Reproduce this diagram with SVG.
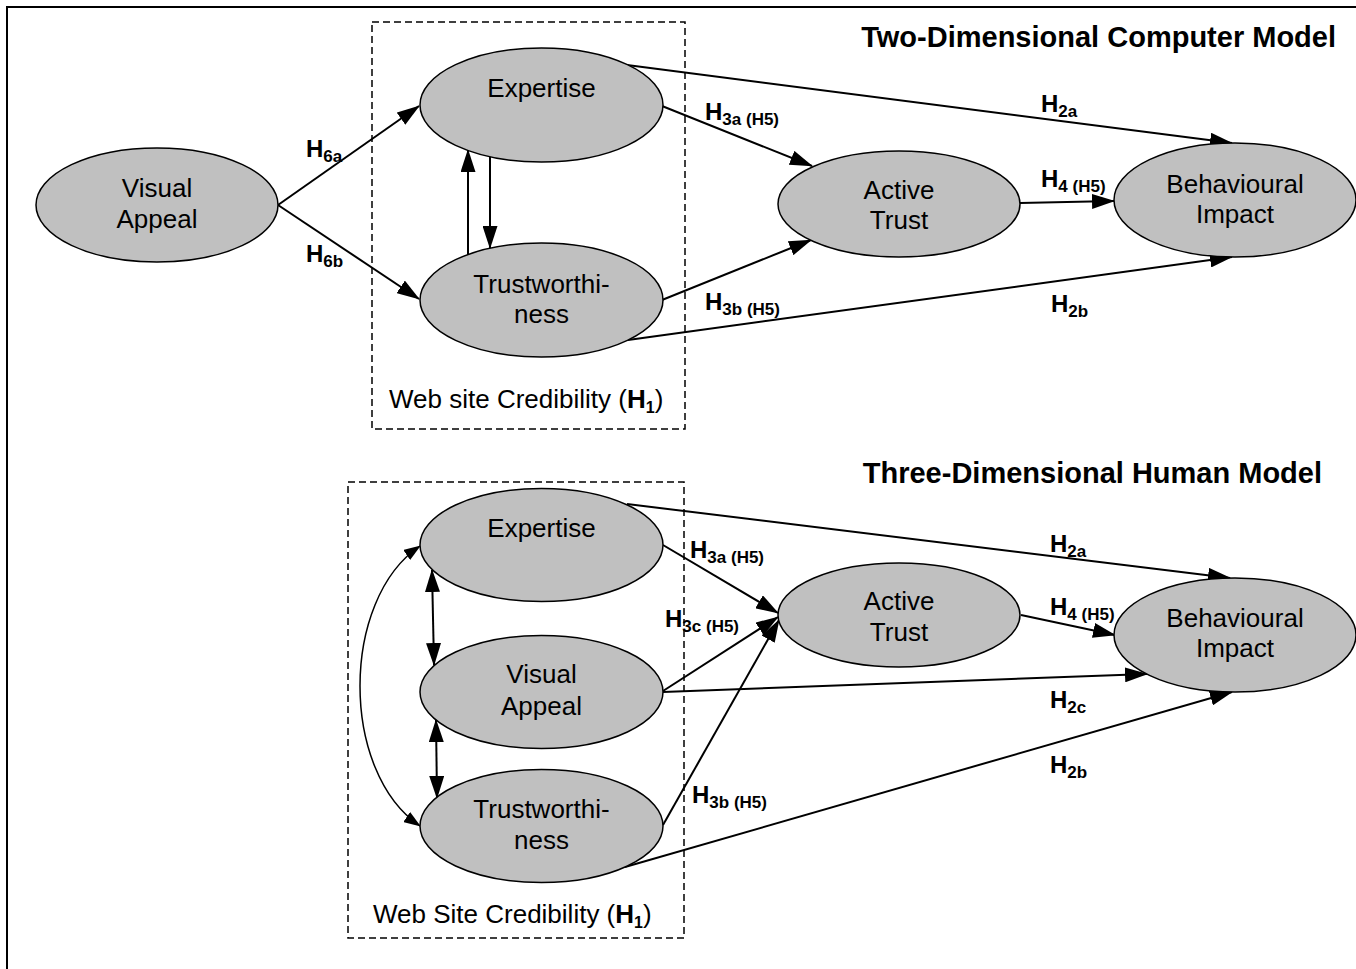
<svg xmlns="http://www.w3.org/2000/svg" width="1356" height="969" viewBox="0 0 1356 969">
<style>
.node ellipse{fill:#c0c0c0;stroke:#000;stroke-width:1.5}
.nt{font-family:"Liberation Sans",Arial,sans-serif;font-size:26px;fill:#000;text-anchor:middle}
.lab{font-family:"Liberation Sans",Arial,sans-serif;font-size:24px;font-weight:bold;fill:#000}
.sub{font-size:17px}
.title{font-family:"Liberation Sans",Arial,sans-serif;font-size:29px;font-weight:bold;fill:#000;text-anchor:end}
.cred{font-family:"Liberation Sans",Arial,sans-serif;font-size:26px;fill:#000}
.box{fill:none;stroke:#000;stroke-width:1.5;stroke-dasharray:7 4}
.conn line,.conn path{stroke:#000;stroke-width:2;fill:none;marker-end:url(#ah)}
.conn .dbl{marker-start:url(#ah)}
.conn .curve{stroke-width:1.5;marker-start:url(#ahs);marker-end:url(#ahs)}
</style>
<defs>
<marker id="ah" markerUnits="userSpaceOnUse" markerWidth="23" markerHeight="15" refX="22" refY="7.5" orient="auto-start-reverse"><path d="M0,0 L23,7.5 L0,15 z" fill="#000"/></marker>
<marker id="ahs" markerUnits="userSpaceOnUse" markerWidth="17" markerHeight="12" refX="16" refY="6" orient="auto-start-reverse"><path d="M0,0 L17,6 L0,12 z" fill="#000"/></marker>
</defs>
<rect width="1356" height="969" fill="#fff"/>
<path d="M7,969 V7 H1356" fill="none" stroke="#000" stroke-width="2"/>

<text class="title" x="1336" y="47">Two-Dimensional Computer Model</text>
<text class="title" x="1322" y="483">Three-Dimensional Human Model</text>

<g id="credibility-top">
<rect class="box" x="372" y="22" width="313" height="407"/>
<text class="cred" x="389" y="408">Web site Credibility (<tspan font-weight="bold">H</tspan><tspan font-weight="bold" font-size="16" dy="5">1</tspan><tspan dy="-5">)</tspan></text>
</g>
<g id="credibility-bottom">
<rect class="box" x="348" y="482" width="336" height="456"/>
<text class="cred" x="373" y="923">Web Site Credibility (<tspan font-weight="bold">H</tspan><tspan font-weight="bold" font-size="16" dy="5">1</tspan><tspan dy="-5">)</tspan></text>
</g>

<g id="connectors" class="conn">
<line x1="278" y1="205" x2="419" y2="106"/>
<line x1="278" y1="205" x2="419" y2="299"/>
<line x1="468" y1="255" x2="468" y2="150"/>
<line x1="490" y1="157" x2="490" y2="248"/>
<line x1="662" y1="106" x2="812" y2="166"/>
<line x1="662" y1="300" x2="811" y2="240"/>
<line x1="1020" y1="203" x2="1114" y2="201"/>
<line x1="627" y1="65" x2="1232" y2="143"/>
<line x1="628" y1="340" x2="1232" y2="257"/>

<path class="curve" d="M420,546 C340,600 340,772 420,826"/>
<line class="dbl" x1="432" y1="570" x2="434" y2="665"/>
<line class="dbl" x1="436" y1="720" x2="437" y2="798"/>
<line x1="663" y1="545" x2="778" y2="613"/>
<line x1="663" y1="691" x2="778" y2="617"/>
<line x1="663" y1="825" x2="779" y2="620"/>
<line x1="1021" y1="615" x2="1115" y2="635"/>
<line x1="627" y1="504" x2="1230" y2="578"/>
<line x1="663" y1="692" x2="1147" y2="674"/>
<line x1="625" y1="867" x2="1232" y2="692"/>
</g>

<g id="labels">
<text class="lab" x="306" y="157">H<tspan class="sub" dy="5">6a</tspan></text>
<text class="lab" x="306" y="262">H<tspan class="sub" dy="5">6b</tspan></text>
<text class="lab" x="705" y="120">H<tspan class="sub" dy="5">3a (H5)</tspan></text>
<text class="lab" x="705" y="310">H<tspan class="sub" dy="5">3b (H5)</tspan></text>
<text class="lab" x="1041" y="112">H<tspan class="sub" dy="5">2a</tspan></text>
<text class="lab" x="1041" y="187">H<tspan class="sub" dy="5">4 (H5)</tspan></text>
<text class="lab" x="1051" y="312">H<tspan class="sub" dy="5">2b</tspan></text>
<text class="lab" x="690" y="558">H<tspan class="sub" dy="5">3a (H5)</tspan></text>
<text class="lab" x="665" y="627">H<tspan class="sub" dy="5">3c (H5)</tspan></text>
<text class="lab" x="692" y="803">H<tspan class="sub" dy="5">3b (H5)</tspan></text>
<text class="lab" x="1050" y="552">H<tspan class="sub" dy="5">2a</tspan></text>
<text class="lab" x="1050" y="615">H<tspan class="sub" dy="5">4 (H5)</tspan></text>
<text class="lab" x="1050" y="708">H<tspan class="sub" dy="5">2c</tspan></text>
<text class="lab" x="1050" y="773">H<tspan class="sub" dy="5">2b</tspan></text>
</g>

<g id="visual-appeal-top" class="node"><ellipse cx="157" cy="205" rx="121" ry="57"/><text class="nt" x="157" y="197">Visual</text><text class="nt" x="157" y="228">Appeal</text></g>
<g id="expertise-top" class="node"><ellipse cx="541.5" cy="105" rx="121.5" ry="57"/><text class="nt" x="541.5" y="97">Expertise</text></g>
<g id="trustworthiness-top" class="node"><ellipse cx="541.5" cy="300" rx="121.5" ry="57"/><text class="nt" x="541.5" y="293">Trustworthi-</text><text class="nt" x="541.5" y="323">ness</text></g>
<g id="active-trust-top" class="node"><ellipse cx="899" cy="204" rx="121" ry="53"/><text class="nt" x="899" y="199">Active</text><text class="nt" x="899" y="229">Trust</text></g>
<g id="behavioural-top" class="node"><ellipse cx="1235" cy="200" rx="121" ry="57"/><text class="nt" x="1235" y="193">Behavioural</text><text class="nt" x="1235" y="223">Impact</text></g>

<g id="expertise-bottom" class="node"><ellipse cx="541.5" cy="545" rx="121.5" ry="56.5"/><text class="nt" x="541.5" y="537">Expertise</text></g>
<g id="visual-appeal-bottom" class="node"><ellipse cx="541.5" cy="692" rx="121.5" ry="56.5"/><text class="nt" x="541.5" y="683">Visual</text><text class="nt" x="541.5" y="715">Appeal</text></g>
<g id="trustworthiness-bottom" class="node"><ellipse cx="541.5" cy="826" rx="121.5" ry="56.5"/><text class="nt" x="541.5" y="818">Trustworthi-</text><text class="nt" x="541.5" y="849">ness</text></g>
<g id="active-trust-bottom" class="node"><ellipse cx="899" cy="615" rx="121" ry="52"/><text class="nt" x="899" y="610">Active</text><text class="nt" x="899" y="641">Trust</text></g>
<g id="behavioural-bottom" class="node"><ellipse cx="1235" cy="635" rx="121" ry="57"/><text class="nt" x="1235" y="627">Behavioural</text><text class="nt" x="1235" y="657">Impact</text></g>
</svg>
